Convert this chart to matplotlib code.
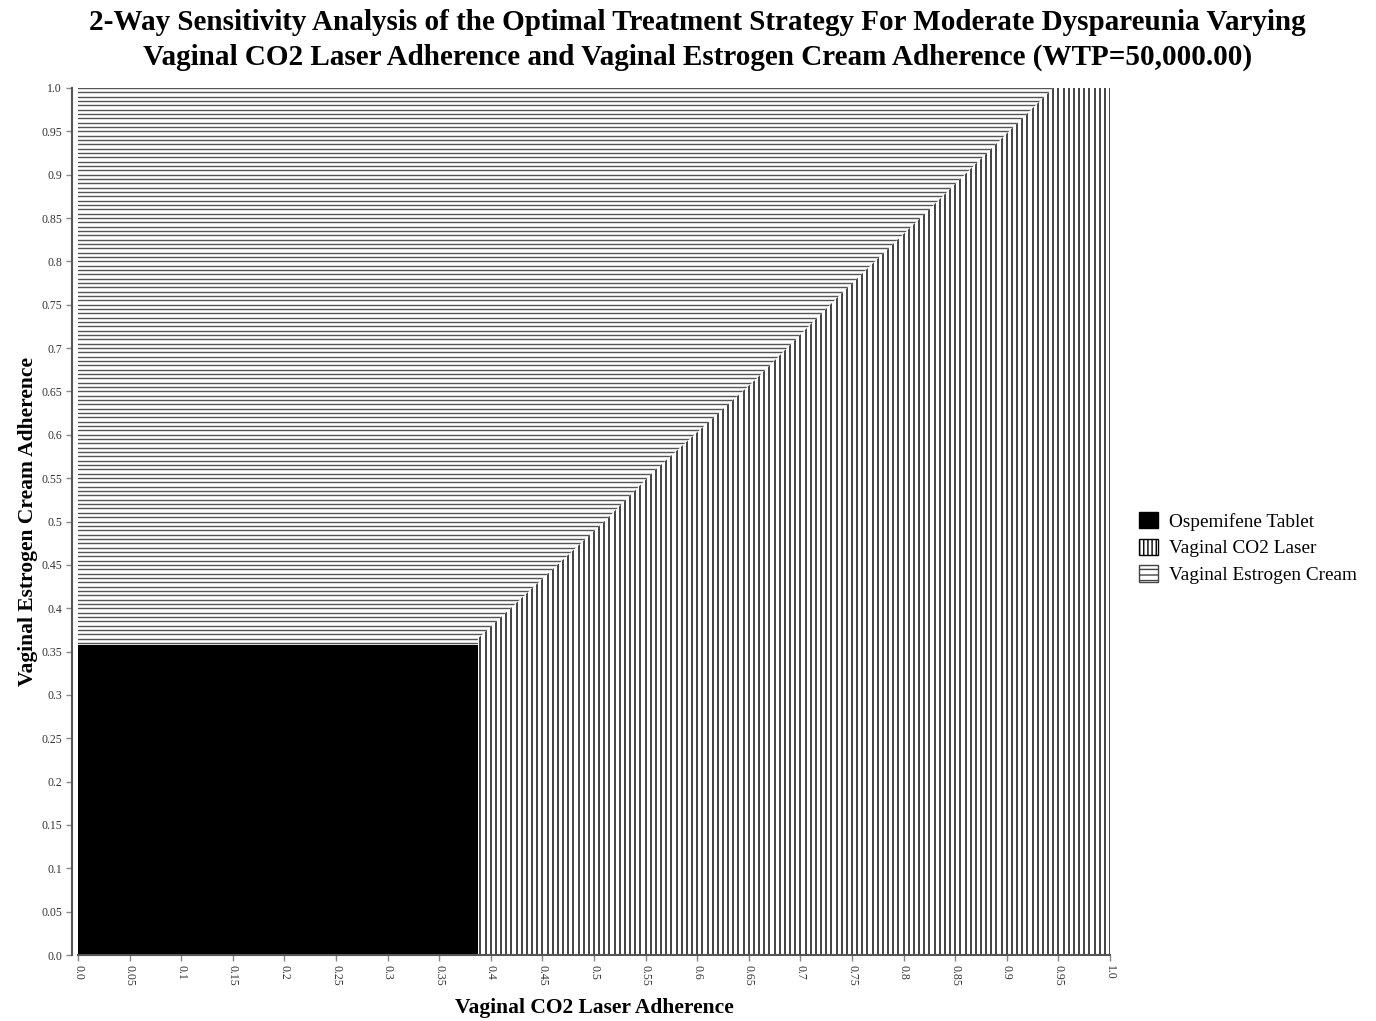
import numpy as np
import matplotlib
matplotlib.use("Agg")
import matplotlib.pyplot as plt
from matplotlib.collections import LineCollection
from matplotlib.patches import Polygon, Rectangle, Patch

plt.rcParams["font.family"] = ["Liberation Serif", "DejaVu Serif"]
plt.rcParams["hatch.linewidth"] = 1.0

strategies = ["Ospemifene Tablet", "Vaginal CO2 Laser", "Vaginal Estrogen Cream"]
grid_step = 0.005

# last grid values where Ospemifene is optimal
osp_laser_max = 0.385
osp_cream_max = 0.355

# laser / cream boundary
boundary_laser = [0.3875, 0.51, 0.559, 0.656, 0.738, 0.824, 0.945]
boundary_cream = [0.365, 0.50, 0.559, 0.663, 0.761, 0.859, 1.0]

tick_values = [0.0, 0.05, 0.1, 0.15, 0.2, 0.25, 0.3, 0.35, 0.4, 0.45, 0.5,
               0.55, 0.6, 0.65, 0.7, 0.75, 0.8, 0.85, 0.9, 0.95, 1.0]

W, H = 1376, 1021
fig = plt.figure(figsize=(W / 100, H / 100), dpi=100)
ax = fig.add_axes([78 / W, 1 - 955 / H, (1110 - 78) / W, (955 - 88) / H])
ax.set_xlim(0, 1)
ax.set_ylim(0, 1)

half = grid_step / 2
x_edge = osp_laser_max + half
y_edge = osp_cream_max + half

# Ospemifene block
ax.add_patch(Rectangle((0, 0), x_edge, y_edge, facecolor="black",
                       edgecolor="none", zorder=2))

# region polygons
laser_poly = [(x_edge, 0), (1 + half, 0), (1 + half, 1 + half)]
laser_poly += list(zip(boundary_laser[::-1], boundary_cream[::-1]))
laser_poly += [(x_edge, boundary_cream[0])]
cream_poly = [(0, y_edge), (x_edge, y_edge)]
cream_poly += list(zip(boundary_laser, boundary_cream))
cream_poly += [(boundary_laser[-1], 1 + half), (0, 1 + half)]

laser_clip = Polygon(laser_poly, closed=True, transform=ax.transData)
cream_clip = Polygon(cream_poly, closed=True, transform=ax.transData)

positions = np.arange(0, 1 + 1e-9, grid_step)
vsegs = [[(p, 0), (p, 1.01)] for p in positions]
hsegs = [[(-0.01, p), (1.01, p)] for p in positions]

vl = LineCollection(vsegs, colors="#111111", linewidths=1.1, zorder=1)
ax.add_collection(vl)
vl.set_clip_path(laser_clip)
hl = LineCollection(hsegs, colors="#555555", linewidths=1.0, zorder=1)
ax.add_collection(hl)
hl.set_clip_path(cream_clip)

# axes styling
for s in ["top", "right"]:
    ax.spines[s].set_visible(False)
ax.spines["left"].set_position(("outward", 4.5))
for s in ["left", "bottom"]:
    ax.spines[s].set_color("#555555")
    ax.spines[s].set_linewidth(1.5)
ax.set_xticks(tick_values)
ax.set_yticks(tick_values)
ax.set_xticklabels([str(v) for v in tick_values], rotation=-90)
ax.set_yticklabels([str(v) for v in tick_values])
ax.tick_params(axis="both", length=4, width=1, color="#888888",
               labelsize=8.5, labelcolor="#333333", pad=3)

ax.set_xlabel("Vaginal CO2 Laser Adherence", fontsize=15.5,
              fontweight="bold", labelpad=9)
ax.set_ylabel("Vaginal Estrogen Cream Adherence", fontsize=15.5,
              fontweight="bold", labelpad=2)

fig.text(0.507, 1 - 40 / H,
         "2-Way Sensitivity Analysis of the Optimal Treatment Strategy For "
         "Moderate Dyspareunia Varying\nVaginal CO2 Laser Adherence and "
         "Vaginal Estrogen Cream Adherence (WTP=50,000.00)",
         ha="center", va="center", fontsize=21, fontweight="bold",
         linespacing=1.35)

handles = [
    Patch(facecolor="black", edgecolor="black", label=strategies[0]),
    Patch(facecolor="white", edgecolor="black", hatch="||||", label=strategies[1]),
    Patch(facecolor="white", edgecolor="#444444", hatch="---", label=strategies[2]),
]
fig.legend(handles=handles, loc="center left",
           bbox_to_anchor=(1122 / W, 1 - 548 / H), frameon=False,
           fontsize=13.9, handlelength=0.95, handleheight=0.95,
           handletextpad=0.6, labelspacing=0.4)

fig.savefig("out.png", dpi=100)
